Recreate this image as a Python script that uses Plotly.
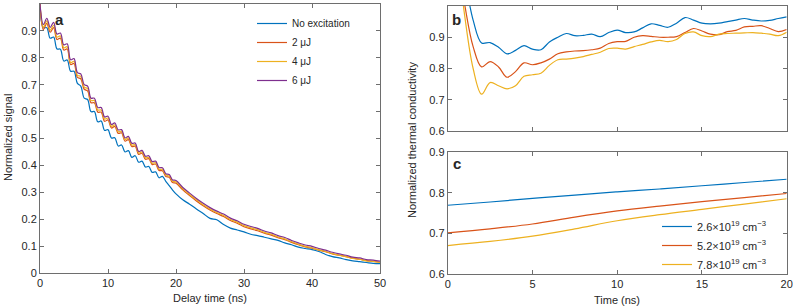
import plotly.graph_objects as go

W, H = 793, 308

# ---------------- Panel a data ----------------
t_a = [0, 0.5, 1, 1.5, 2, 2.5, 3, 3.5, 4, 4.5, 5, 5.5, 6, 6.5, 7, 7.5, 8, 8.5, 9, 9.5,
       10, 10.5, 11, 11.5, 12, 12.5, 13, 13.5, 14, 14.5, 15, 15.5, 16, 16.5, 17, 17.5,
       18, 18.5, 19, 19.5, 20, 21, 22, 23, 24, 25, 26, 27, 28, 29, 30, 31, 32, 33, 34,
       35, 36, 37, 38, 39, 40, 41, 42, 43, 44, 45, 46, 47, 48, 49, 50]

sig_none = [1.000, 0.912, 0.912, 0.873, 0.877, 0.833, 0.832, 0.788, 0.792, 0.750, 0.750,
            0.705, 0.695, 0.650, 0.645, 0.600, 0.600, 0.562, 0.565, 0.530, 0.533, 0.502,
            0.503, 0.472, 0.476, 0.450, 0.455, 0.430, 0.436, 0.412, 0.416, 0.394, 0.396,
            0.374, 0.376, 0.354, 0.359, 0.341, 0.325, 0.308, 0.294,
            0.272, 0.256, 0.238, 0.221, 0.203, 0.198, 0.180, 0.167, 0.160, 0.153, 0.144,
            0.139, 0.133, 0.127, 0.121, 0.112, 0.105, 0.096, 0.091, 0.087, 0.080, 0.069,
            0.061, 0.056, 0.050, 0.045, 0.042, 0.039, 0.036, 0.035]

sig_2uJ = [1.000, 0.905, 0.928, 0.895, 0.912, 0.868, 0.873, 0.829, 0.833, 0.775, 0.779,
           0.727, 0.722, 0.683, 0.677, 0.633, 0.633, 0.598, 0.598, 0.564, 0.569, 0.539,
           0.545, 0.519, 0.521, 0.490, 0.496, 0.470, 0.471, 0.441, 0.445, 0.423, 0.425,
           0.403, 0.405, 0.381, 0.380, 0.359, 0.356, 0.336, 0.334,
           0.309, 0.288, 0.268, 0.250, 0.234, 0.221, 0.210, 0.195, 0.185, 0.172, 0.164,
           0.157, 0.148, 0.141, 0.131, 0.124, 0.114, 0.105, 0.097, 0.092, 0.085, 0.079,
           0.071, 0.066, 0.061, 0.055, 0.051, 0.046, 0.043, 0.040]

sig_4uJ = [1.000, 0.913, 0.937, 0.903, 0.921, 0.877, 0.881, 0.837, 0.841, 0.782, 0.787,
           0.735, 0.731, 0.691, 0.686, 0.641, 0.641, 0.606, 0.606, 0.572, 0.576, 0.545,
           0.551, 0.525, 0.527, 0.496, 0.502, 0.476, 0.477, 0.446, 0.450, 0.428, 0.430,
           0.408, 0.410, 0.386, 0.385, 0.364, 0.361, 0.341, 0.339,
           0.313, 0.292, 0.272, 0.254, 0.238, 0.225, 0.214, 0.199, 0.189, 0.176, 0.168,
           0.161, 0.151, 0.144, 0.134, 0.127, 0.116, 0.107, 0.099, 0.094, 0.086, 0.080,
           0.072, 0.066, 0.061, 0.054, 0.051, 0.045, 0.043, 0.039]

sig_6uJ = [1.000, 0.923, 0.947, 0.913, 0.932, 0.888, 0.892, 0.848, 0.852, 0.793, 0.797,
           0.745, 0.740, 0.700, 0.695, 0.650, 0.650, 0.615, 0.615, 0.580, 0.583, 0.552,
           0.558, 0.532, 0.533, 0.502, 0.508, 0.482, 0.483, 0.452, 0.456, 0.434, 0.436,
           0.414, 0.416, 0.392, 0.391, 0.369, 0.366, 0.346, 0.344,
           0.318, 0.297, 0.277, 0.259, 0.243, 0.230, 0.219, 0.204, 0.194, 0.181, 0.173,
           0.166, 0.156, 0.149, 0.139, 0.132, 0.121, 0.112, 0.104, 0.099, 0.091, 0.085,
           0.077, 0.071, 0.066, 0.059, 0.056, 0.050, 0.048, 0.044]

names_a = ["No excitation", "2 \u03bcJ", "4 \u03bcJ", "6 \u03bcJ"]

# ---------------- Panel b data ----------------
t_b = [0, 0.5, 1, 1.5, 2, 2.5, 3, 3.5, 4, 4.5, 5, 5.5, 6, 6.5, 7, 7.5, 8, 8.5, 9, 9.5,
       10, 10.5, 11, 11.5, 12, 12.5, 13, 13.5, 14, 14.5, 15, 15.5, 16, 16.5, 17, 17.5,
       18, 18.5, 19, 19.5, 20]

k_b_blue = [1.25, 1.16, 1.08, 0.955, 0.882, 0.883, 0.868, 0.847, 0.858, 0.873, 0.862,
            0.860, 0.885, 0.900, 0.912, 0.905, 0.906, 0.910, 0.902, 0.915, 0.923,
            0.915, 0.917, 0.930, 0.943, 0.938, 0.932, 0.945, 0.963, 0.955, 0.945,
            0.943, 0.945, 0.950, 0.955, 0.960, 0.955, 0.952, 0.954, 0.960, 0.965]

k_b_red = [1.35, 1.17, 1.005, 0.870, 0.805, 0.822, 0.805, 0.772, 0.790, 0.818, 0.812,
           0.818, 0.830, 0.847, 0.853, 0.856, 0.857, 0.860, 0.865, 0.880, 0.886,
           0.887, 0.900, 0.905, 0.903, 0.900, 0.900, 0.902, 0.915, 0.928, 0.920,
           0.910, 0.908, 0.918, 0.922, 0.933, 0.935, 0.937, 0.928, 0.918, 0.925]

k_b_yellow = [1.40, 1.20, 0.970, 0.800, 0.718, 0.755, 0.745, 0.735, 0.745, 0.775, 0.780,
              0.785, 0.810, 0.828, 0.830, 0.833, 0.838, 0.845, 0.852, 0.864, 0.865,
              0.862, 0.870, 0.877, 0.885, 0.890, 0.886, 0.893, 0.912, 0.917, 0.905,
              0.902, 0.910, 0.912, 0.913, 0.914, 0.915, 0.913, 0.910, 0.905, 0.916]

# ---------------- Panel c data ----------------
t_c = [0, 2.5, 5, 7.5, 10, 12.5, 15, 17.5, 20]
k_c_26 = [0.769, 0.777, 0.786, 0.794, 0.802, 0.809, 0.817, 0.825, 0.833]
k_c_52 = [0.701, 0.711, 0.723, 0.740, 0.755, 0.767, 0.778, 0.788, 0.798]
k_c_78 = [0.670, 0.680, 0.693, 0.711, 0.731, 0.746, 0.759, 0.772, 0.785]
names_c = ["2.6\u00d710<sup>19</sup> cm<sup>\u22123</sup>",
           "5.2\u00d710<sup>19</sup> cm<sup>\u22123</sup>",
           "7.8\u00d710<sup>19</sup> cm<sup>\u22123</sup>"]

# ticks
a_xticks = [0, 10, 20, 30, 40, 50]
a_yticks = [0, 0.1, 0.2, 0.3, 0.4, 0.5, 0.6, 0.7, 0.8, 0.9, 1]
b_yticks = [0.6, 0.7, 0.8, 0.9, 1]
c_yticks = [0.6, 0.7, 0.8, 0.9]
bc_xticks = [0, 5, 10, 15, 20]

BLUE, RED, YELLOW, PURPLE = "#0072BD", "#D95319", "#EDB120", "#7E2F8E"
FONT = "Liberation Sans, Arial, sans-serif"
TXT = "#262626"
AX = "#6e6e6e"
LW = 1.2

# plot-area (in pixels) = margins
ML, MR, MT, MB = 40, 6, 4, 34
PW, PH = W - ML - MR, H - MT - MB


def px(x):
    return (x - ML) / PW


def py(y):
    return (H - MB - y) / PH


fig = go.Figure()

for y, nm, col in zip([sig_none, sig_2uJ, sig_4uJ, sig_6uJ], names_a,
                      [BLUE, RED, YELLOW, PURPLE]):
    fig.add_trace(go.Scatter(x=t_a, y=y, name=nm, mode="lines",
                             line=dict(color=col, width=LW, shape="spline", smoothing=1.0),
                             xaxis="x", yaxis="y", legend="legend"))

for y, col in zip([k_b_blue, k_b_red, k_b_yellow], [BLUE, RED, YELLOW]):
    fig.add_trace(go.Scatter(x=t_b, y=y, mode="lines", showlegend=False,
                             line=dict(color=col, width=LW, shape="spline", smoothing=1.0),
                             xaxis="x2", yaxis="y2"))

for y, nm, col in zip([k_c_26, k_c_52, k_c_78], names_c, [BLUE, RED, YELLOW]):
    fig.add_trace(go.Scatter(x=t_c, y=y, name=nm, mode="lines",
                             line=dict(color=col, width=LW, shape="spline"),
                             xaxis="x3", yaxis="y3", legend="legend2"))

axcommon = dict(showgrid=False, zeroline=False, showline=True, linecolor=AX, linewidth=1,
                mirror="ticks", ticks="inside", ticklen=4, tickcolor=AX, tickwidth=1,
                automargin=False,
                tickfont=dict(family=FONT, size=11, color=TXT))

fig.update_layout(
    width=W, height=H, margin=dict(l=ML, r=MR, t=MT, b=MB, autoexpand=False),
    paper_bgcolor="white", plot_bgcolor="white",
    font=dict(family=FONT, size=11, color=TXT),
    xaxis=dict(domain=[px(40), px(380)], range=[0, 50], tickvals=a_xticks,
               anchor="y", **axcommon),
    yaxis=dict(domain=[py(273), py(4)], range=[0, 1], tickvals=a_yticks,
               anchor="x", **axcommon),
    xaxis2=dict(domain=[px(447.7), px(786.7)], range=[0, 20], tickvals=bc_xticks,
                showticklabels=False, anchor="y2", **axcommon),
    yaxis2=dict(domain=[py(131), py(6)], range=[0.6, 1], tickvals=b_yticks,
                anchor="x2", **axcommon),
    xaxis3=dict(domain=[px(447.7), px(786.7)], range=[0, 20], tickvals=bc_xticks,
                anchor="y3", **axcommon),
    yaxis3=dict(domain=[py(274), py(152)], range=[0.6, 0.9], tickvals=c_yticks,
                anchor="x3", **axcommon),
    legend=dict(x=px(252), y=py(9), xanchor="left", yanchor="top",
                bgcolor="rgba(0,0,0,0)", font=dict(family=FONT, size=10, color=TXT),
                itemwidth=30, tracegroupgap=0),
    legend2=dict(x=px(657), y=py(212), xanchor="left", yanchor="top",
                 bgcolor="rgba(0,0,0,0)", font=dict(family=FONT, size=11, color=TXT),
                 itemwidth=30),
    showlegend=True,
)

annotations = [
    dict(text="<b>a</b>", x=px(59), y=py(19), font=dict(size=15)),
    dict(text="<b>b</b>", x=px(457), y=py(19), font=dict(size=15)),
    dict(text="<b>c</b>", x=px(457), y=py(163), font=dict(size=15)),
    dict(text="Delay time (ns)", x=px(210), y=py(298), font=dict(size=11)),
    dict(text="Time (ns)", x=px(617), y=py(300), font=dict(size=11)),
    dict(text="Normalized signal", x=px(8), y=py(138), textangle=-90, font=dict(size=11)),
    dict(text="Normalized thermal conductivity", x=px(412), y=py(140), textangle=-90,
         font=dict(size=11)),
]
for a in annotations:
    a.update(xref="paper", yref="paper", showarrow=False, xanchor="center", yanchor="middle")
    a["font"] = dict(family=FONT, color=TXT, **a["font"])
fig.update_layout(annotations=annotations)

fig.write_html("out.html", config={"displayModeBar": False, "staticPlot": True},
               post_script="document.body.style.margin='0';document.body.style.padding='0';")
